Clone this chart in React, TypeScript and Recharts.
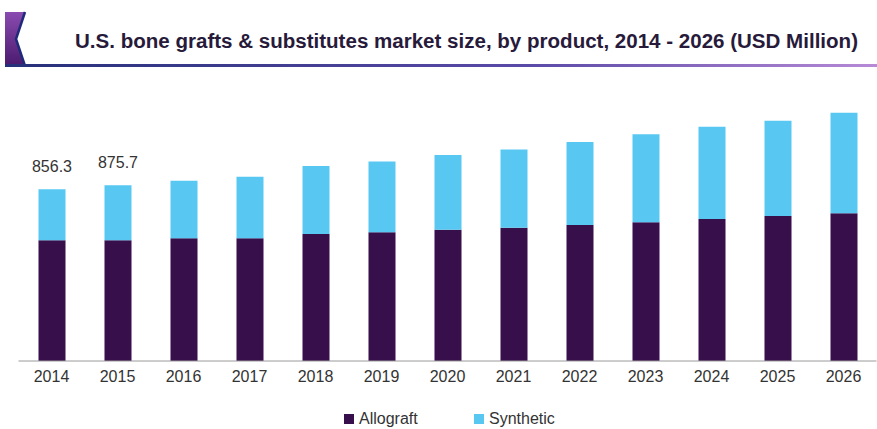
import { Bar, BarChart, LabelList, XAxis, YAxis } from "recharts";

const years = ["2014", "2015", "2016", "2017", "2018", "2019", "2020", "2021", "2022", "2023", "2024", "2025", "2026"];
const allograft = [602, 602, 611, 611, 632, 641, 654, 664, 677, 691, 707, 722, 736];
const synthetic = [254, 274, 287, 307, 339, 353, 372, 390, 414, 438, 460, 475, 501];
const totalLabels = ["856.3", "875.7", "", "", "", "", "", "", "", "", "", "", ""];

const ALLOGRAFT = "#370f4b";
const SYNTHETIC = "#58c8f2";

const data = years.map((year, i) => ({
  year,
  allograft: allograft[i],
  synthetic: synthetic[i],
  label: totalLabels[i],
}));

function TotalLabel(props: any) {
  const { x, y, width, index } = props;
  const text = totalLabels[index];
  if (!text) return null;
  return (
    <text x={x + width / 2} y={y - 17} textAnchor="middle" fontSize={16} fill="#333" fontFamily="Liberation Sans, Arial, sans-serif">
      {text}
    </text>
  );
}

function Header() {
  return (
    <svg width={877} height={72} style={{ position: "absolute", left: 0, top: 0 }}>
      <defs>
        <linearGradient id="logo" x1="0" y1="0" x2="0" y2="1">
          <stop offset="0%" stopColor="#8a4bb0" />
          <stop offset="100%" stopColor="#4a1a6e" />
        </linearGradient>
        <linearGradient id="rule" x1="0" y1="0" x2="1" y2="0">
          <stop offset="0%" stopColor="#26307a" />
          <stop offset="60%" stopColor="#5a4aa8" />
          <stop offset="100%" stopColor="#b78ad6" />
        </linearGradient>
      </defs>
      <polygon points="5,12 25,12 16,39 25,66 5,66" fill="url(#logo)" />
      <polyline points="25,12 16,39 25,66" fill="none" stroke="#1f2a7a" strokeWidth={2.5} />
      <rect x={5} y={64} width={872} height={3} fill="url(#rule)" />
      <text
        x={75}
        y={48}
        fontSize={20}
        fontWeight="bold"
        fill="#271a3a"
        fontFamily="Liberation Sans, Arial, sans-serif"
        textLength={783}
        lengthAdjust="spacingAndGlyphs"
      >
        U.S. bone grafts &amp; substitutes market size, by product, 2014 - 2026 (USD Million)
      </text>
    </svg>
  );
}

function LegendRow() {
  const item = (color: string, label: string, left: number) => (
    <div style={{ position: "absolute", left, top: 410, display: "flex", alignItems: "center" }}>
      <span style={{ display: "inline-block", width: 10, height: 10, background: color, marginRight: 5 }} />
      <span style={{ fontSize: 16, color: "#333", fontFamily: "Liberation Sans, Arial, sans-serif" }}>{label}</span>
    </div>
  );
  return (
    <>
      {item(ALLOGRAFT, "Allograft", 344)}
      {item(SYNTHETIC, "Synthetic", 474)}
    </>
  );
}

export default function App() {
  return (
    <div style={{ position: "absolute", left: 0, top: 0, width: 877, height: 429, background: "#fff", overflow: "hidden" }}>
      <Header />
      <div style={{ position: "absolute", left: 0, top: 0 }}>
        <BarChart
          width={877}
          height={429}
          data={data}
          margin={{ top: 100, right: 0.5, bottom: 38, left: 18.5 }}
          barSize={27}
        >
          <XAxis
            dataKey="year"
            height={30}
            tickLine={false}
            tickSize={0}
            tickMargin={10}
            axisLine={{ stroke: "#9a9a9a" }}
            tick={{ fontSize: 16, fill: "#333", fontFamily: "Liberation Sans, Arial, sans-serif" }}
            interval={0}
          />
          <YAxis hide domain={[0, 1300]} />
          <Bar dataKey="allograft" stackId="a" fill={ALLOGRAFT} isAnimationActive={false} />
          <Bar dataKey="synthetic" stackId="a" fill={SYNTHETIC} isAnimationActive={false}>
            <LabelList dataKey="label" content={TotalLabel} />
          </Bar>
        </BarChart>
      </div>
      <LegendRow />
    </div>
  );
}
